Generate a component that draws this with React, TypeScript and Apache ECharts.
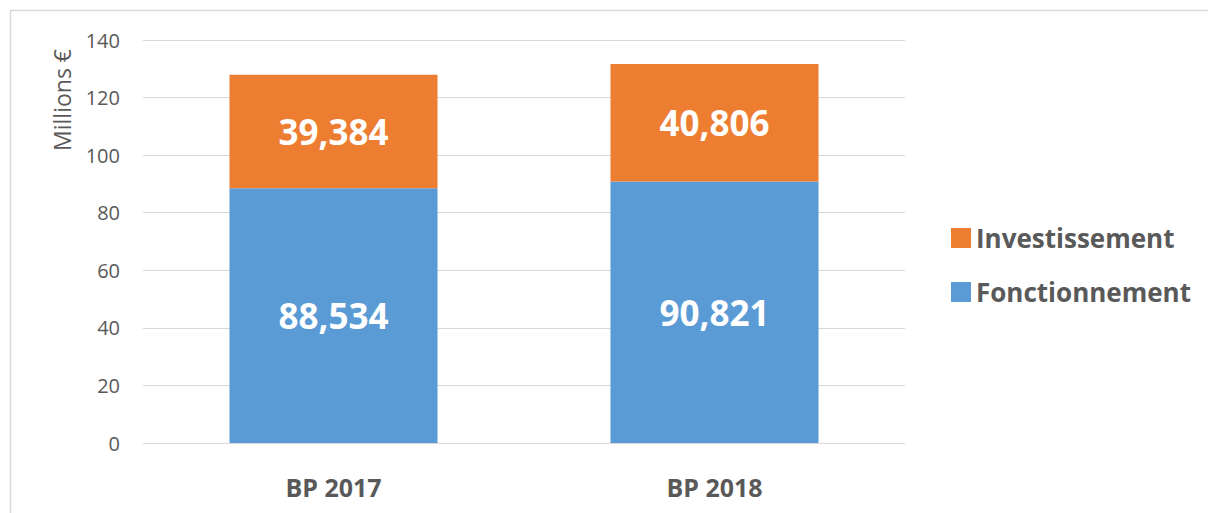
import React, { useEffect, useRef } from "react";
import * as echarts from "echarts";

const categories = ["BP 2017", "BP 2018"];
const fonctionnement = [88.534, 90.821];
const investissement = [39.384, 40.806];
const yTicks = { min: 0, max: 140, interval: 20 };

const FONT = "'Open Sans', sans-serif";
const fmt = (v: number) => v.toFixed(3).replace(".", ",");

export default function App() {
  const ref = useRef<HTMLDivElement>(null);
  useEffect(() => {
    const chart = echarts.init(ref.current!, null, { renderer: "svg" });
    const label = {
      show: true,
      position: "inside" as const,
      color: "#ffffff",
      fontFamily: FONT,
      fontWeight: "bold" as const,
      fontSize: 35,
      formatter: (p: any) => fmt(p.value),
    };
    chart.setOption({
      animation: false,
      backgroundColor: "#ffffff",
      textStyle: { fontFamily: FONT },
      grid: { left: 143, right: 303, top: 40, bottom: 70 },
      legend: {
        orient: "vertical",
        left: 946,
        top: 220,
        itemWidth: 20,
        itemHeight: 20,
        itemGap: 28,
        icon: "rect",
        data: ["Investissement", "Fonctionnement"],
        textStyle: { fontFamily: FONT, fontWeight: "bold", fontSize: 26, color: "#595959", padding: [0, 0, 0, 0] },
      },
      xAxis: {
        type: "category",
        data: categories,
        axisLine: { lineStyle: { color: "#d9d9d9", width: 1 } },
        axisTick: { show: false },
        axisLabel: { fontFamily: FONT, fontWeight: "bold", fontSize: 25, color: "#595959", margin: 31 },
      },
      yAxis: {
        type: "value",
        min: yTicks.min,
        max: yTicks.max,
        interval: yTicks.interval,
        axisLine: { show: false },
        axisTick: { show: false },
        splitLine: { lineStyle: { color: "#d9d9d9", width: 1 } },
        axisLabel: { fontFamily: FONT, fontSize: 20, color: "#595959", margin: 23 },
      },
      graphic: [
        {
          type: "rect",
          shape: { x: 10.5, y: 10.5, width: 1250, height: 600 },
          style: { fill: "none", stroke: "#d9d9d9", lineWidth: 1.5 },
          silent: true,
        },
        {
          type: "text",
          x: 62,
          y: 100,
          rotation: Math.PI / 2,
          style: {
            text: "Millions €",
            fontFamily: FONT,
            fontSize: 23,
            fill: "#595959",
            align: "center",
            verticalAlign: "middle",
          },
        },
      ],
      series: [
        {
          name: "Fonctionnement",
          type: "bar",
          stack: "total",
          data: fonctionnement,
          barWidth: "54.6%",
          itemStyle: { color: "#5B9BD5" },
          label,
        },
        {
          name: "Investissement",
          type: "bar",
          stack: "total",
          data: investissement,
          itemStyle: { color: "#ED7D31" },
          label,
        },
      ],
    });
    return () => chart.dispose();
  }, []);
  return (
    <div
      ref={ref}
      style={{ position: "absolute", left: 0, top: 0, width: 1208, height: 513 }}
    />
  );
}
